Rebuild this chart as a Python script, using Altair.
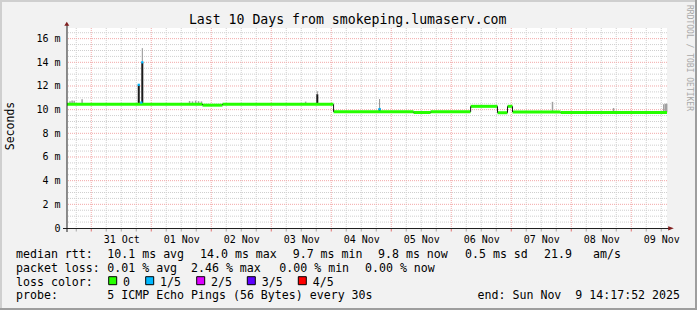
import altair as alt
import pandas as pd

MONO = "DejaVu Sans Mono"
START = "2025-10-30T14:17:52"
END = "2025-11-09T14:17:52"

# ---------------- data ----------------
# median RTT in ms, as step segments (segment start time -> value)
median_times = [
    "2025-10-30T14:17:52", "2025-11-01T20:30:00", "2025-11-02T04:30:00",
    "2025-11-04T00:55:00", "2025-11-05T08:55:00", "2025-11-05T15:45:00",
    "2025-11-06T07:45:00", "2025-11-06T18:30:00", "2025-11-06T22:30:00",
    "2025-11-07T00:30:00", "2025-11-07T19:45:00",
]
median_ms = [10.46, 10.38, 10.45, 9.82, 9.76, 9.82, 10.28, 9.74, 10.28, 9.80, 9.77]

# spikes (dense smoke): base, dark part top, light smoke top
spike_times = ["2025-10-31T19:00:00", "2025-10-31T20:25:00",
               "2025-11-03T18:25:00", "2025-11-04T19:20:00"]
spike_base = [10.45, 10.45, 10.45, 9.82]
spike_dark = [12.1, 14.0, 11.3, 10.1]
spike_top = [12.15, 15.2, 11.56, 10.9]

# median points with 1/5 loss
loss_times = ["2025-10-31T19:00:00", "2025-10-31T20:25:00",
              "2025-10-31T20:00:00", "2025-11-04T19:20:00"]
loss_ms = [12.1, 14.0, 10.6, 10.05]

# light smoke specks
smoke_times = [
    "2025-10-30T15:30:00", "2025-10-30T16:20:00", "2025-10-30T17:10:00",
    "2025-10-30T20:20:00", "2025-11-01T15:20:00", "2025-11-01T16:30:00",
    "2025-11-01T17:45:00", "2025-11-01T18:55:00", "2025-11-01T20:05:00",
    "2025-11-03T13:45:00", "2025-11-07T16:30:00", "2025-11-08T16:55:00",
    "2025-11-09T13:00:00", "2025-11-09T13:40:00", "2025-11-09T14:10:00",
]
smoke_low = [10.46, 10.46, 10.46, 10.46, 10.46, 10.46, 10.46, 10.46, 10.46,
             10.45, 9.77, 9.77, 9.77, 9.77, 9.77]
smoke_high = [10.70, 10.78, 10.75, 10.87, 10.73, 10.70, 10.76, 10.72, 10.70,
              10.68, 10.66, 10.14, 10.45, 10.50, 10.50]

label_days = [(10, 31), (11, 1), (11, 2), (11, 3), (11, 4),
              (11, 5), (11, 6), (11, 7), (11, 8), (11, 9)]
y_ticks = [0, 2, 4, 6, 8, 10, 12, 14, 16]

title_text = "Last 10 Days from smokeping.lumaserv.com"
rtt_head = "median rtt:"
rtt_stats = ["10.1 ms avg", "14.0 ms max", "9.7 ms min", "9.8 ms now",
             "0.5 ms sd", "21.9", "am/s"]
loss_head = "packet loss:"
loss_stats = ["0.01 % avg", "2.46 % max", "0.00 % min", "0.00 % now"]
color_head = "loss color:"
loss_labels = ["0", "1/5", "2/5", "3/5", "4/5"]
loss_colors = ["#26ff00", "#00b8ff", "#dd00ff", "#5e00ff", "#ff0000"]
probe_head = "probe:"
probe_text = "5 ICMP Echo Pings (56 Bytes) every 30s"
end_text = "end: Sun Nov\u00a0\u00a09 14:17:52 2025"

# ---------------- layout (pixels, relative to plot origin) ----------------
W, H = 600, 200
rtt_x = [40.3, 133, 225.7, 311, 398, 477, 526]
loss_x = [40.3, 124, 212.3, 298]
swatch_x = [41.7, 78.7, 129.7, 180.3, 231.3]
swlabel_x = [56, 93, 144, 194.7, 245.7]
row_y = [230.3, 243.7, 257.7, 271.3]

fmt = "%Y-%m-%dT%H:%M:%S"
xscale = alt.Scale(domain=[
    alt.DateTime(year=2025, month=10, date=30, hours=14, minutes=17, seconds=52),
    alt.DateTime(year=2025, month=11, date=9, hours=14, minutes=17, seconds=52)])
yscale = alt.Scale(domain=[0, 16.9], nice=False, zero=False)

xaxis = alt.Axis(values=[alt.DateTime(year=2025, month=m, date=d, hours=12) for m, d in label_days],
                 format="%d %b", labelFont=MONO, labelFontSize=10, labelColor="#000",
                 ticks=False, domain=False, grid=False, labelPadding=6, title=None,
                 labelFlush=False, labelOverlap=False)
yaxis = alt.Axis(values=y_ticks, labelExpr="datum.value == 0 ? '0' : datum.value + ' m'",
                 labelFont=MONO, labelFontSize=10, labelColor="#000", ticks=False,
                 domain=False, grid=False, labelPadding=7, title=None)

X = alt.X("t:T", scale=xscale, axis=xaxis)
Y = alt.Y("v:Q", scale=yscale, axis=yaxis)

# grid data
minor_v = [d.strftime(fmt) for d in pd.date_range("2025-10-30T18:00", "2025-11-09T12:00", freq="6h")
           if d.hour != 0]
major_v = [d.strftime(fmt) for d in pd.date_range("2025-10-31T00:00", "2025-11-09T00:00", freq="D")]
minor_h = [k * 0.5 for k in range(1, 34) if k % 4 != 0]
major_h = [k for k in range(2, 17, 2)]

one = alt.Data(values=[{}])


def rect(x, x2, y, y2, fill, stroke=None):
    kw = dict(fill=fill)
    if stroke:
        kw.update(stroke=stroke, strokeWidth=1)
    return alt.Chart(one).mark_rect(**kw).encode(
        x=alt.value(x), x2=alt.value(x2), y=alt.value(y), y2=alt.value(y2))


def txt(s, x, y, size=11.6, align="left", angle=0, color="#000", baseline="alphabetic"):
    return alt.Chart(one).mark_text(text=s, align=align, baseline=baseline, font=MONO,
                                    fontSize=size, angle=angle, color=color).encode(
        x=alt.value(x), y=alt.value(y))


layers = []
# frame (3D shade)
layers += [
    rect(-67, 630, -28, -26, "#CFCFCF"),
    rect(-67, -65, -28, 282, "#CFCFCF"),
    rect(-67, 630, 280, 282, "#9E9E9E"),
    rect(628, 630, -28, 282, "#9E9E9E"),
]

# grid
layers.append(alt.Chart(pd.DataFrame({"t": minor_v})).mark_rule(
    color="#CFCFCF", strokeWidth=1, strokeDash=[1, 1]).encode(x=X))
layers.append(alt.Chart(pd.DataFrame({"v": minor_h})).mark_rule(
    color="#CFCFCF", strokeWidth=1, strokeDash=[1, 1]).encode(y=Y))
layers.append(alt.Chart(pd.DataFrame({"t": major_v})).mark_rule(
    color="#F2A8A8", strokeWidth=1, strokeDash=[1, 1]).encode(x=X))
layers.append(alt.Chart(pd.DataFrame({"v": major_h})).mark_rule(
    color="#F2A8A8", strokeWidth=1, strokeDash=[1, 1]).encode(y=Y))

# axis ticks below x axis
layers.append(alt.Chart(pd.DataFrame({"t": minor_v})).mark_rule(
    color="#A8A8A8", strokeWidth=1).encode(x=X, y=alt.value(201), y2=alt.value(203.5)))
layers.append(alt.Chart(pd.DataFrame({"t": major_v})).mark_rule(
    color="#E07070", strokeWidth=1).encode(x=X, y=alt.value(201), y2=alt.value(203.5)))

# smoke specks
smoke = pd.DataFrame({"t": smoke_times, "v": smoke_low, "v2": smoke_high})
layers.append(alt.Chart(smoke).mark_rule(color="#A0A0A0", strokeWidth=1.5).encode(
    x=X, y=Y, y2="v2:Q"))

# spikes
spk = pd.DataFrame({"t": spike_times, "v": spike_base, "v2": spike_dark, "v3": spike_top})
layers.append(alt.Chart(spk).mark_rule(color="#909090", strokeWidth=1).encode(
    x=X, y=alt.Y("v2:Q", scale=yscale, axis=yaxis), y2="v3:Q"))
layers.append(alt.Chart(spk).mark_rule(color="#1a1a1a", strokeWidth=2).encode(
    x=X, y=Y, y2="v2:Q"))

# median segments
seg = pd.DataFrame({"t": median_times, "t2": median_times[1:] + [END], "v": median_ms})
layers.append(alt.Chart(seg).mark_rule(color="#26ff00", strokeWidth=3).encode(
    x=X, x2="t2:T", y=Y))
conn = pd.DataFrame({"t": median_times[1:], "v": median_ms[:-1], "v2": median_ms[1:]})
layers.append(alt.Chart(conn).mark_rule(color="#1a1a1a", strokeWidth=1).encode(
    x=X, y=Y, y2="v2:Q"))

# loss markers
lossdf = pd.DataFrame({"t": loss_times, "v": loss_ms})
layers.append(alt.Chart(lossdf).mark_point(shape="square", filled=True, size=5,
                                           color="#00b8ff", opacity=1).encode(x=X, y=Y))

# axes lines and arrows
layers.append(alt.Chart(one).mark_rule(color="#1F1F1F", strokeWidth=1).encode(
    x=alt.value(-4), x2=alt.value(602), y=alt.value(200.5)))
layers.append(alt.Chart(one).mark_rule(color="#1F1F1F", strokeWidth=1).encode(
    x=alt.value(0), y=alt.value(-3), y2=alt.value(204)))
layers.append(alt.Chart(one).mark_point(shape="M-1,-0.75L1,0L-1,0.75Z", filled=True, size=32,
                                        color="#801F1F", opacity=1).encode(
    x=alt.value(604), y=alt.value(200.3)))
layers.append(alt.Chart(one).mark_point(shape="M-1,0.8L0,-0.8L1,0.8Z", filled=True, size=25,
                                        color="#801F1F", opacity=1).encode(
    x=alt.value(-0.2), y=alt.value(-4.3)))

# texts
layers.append(txt(title_text, 280.7, -4, size=13.2, align="center"))
layers.append(txt("Seconds", -56.5, 98, size=11.5, align="center", angle=270, baseline="middle"))
layers.append(txt("RRDTOOL / TOBI OETIKER", 621.5, 30, size=8, align="center", angle=90,
                  color="#A8A8A8", baseline="middle"))

layers.append(txt(rtt_head, -51, row_y[0]))
for s, x in zip(rtt_stats, rtt_x):
    layers.append(txt(s, x, row_y[0]))
layers.append(txt(loss_head, -51, row_y[1]))
for s, x in zip(loss_stats, loss_x):
    layers.append(txt(s, x, row_y[1]))
layers.append(txt(color_head, -51, row_y[2]))
for lab, col, sx, lx in zip(loss_labels, loss_colors, swatch_x, swlabel_x):
    layers.append(rect(sx, sx + 8, row_y[2] - 9, row_y[2] - 1, col, stroke="#000"))
    layers.append(txt(lab, lx, row_y[2]))
layers.append(txt(probe_head, -51, row_y[3]))
layers.append(txt(probe_text, 40.3, row_y[3]))
layers.append(txt(end_text, 613, row_y[3], align="right"))

chart = alt.layer(*layers).properties(
    width=W, height=H,
    autosize=alt.AutoSizeParams(type="none"),
    padding={"left": 67, "top": 28, "right": 30, "bottom": 82},
    background="#F2F2F2",
).configure_view(stroke=None, fill="white")

chart.save("out.html", embed_options={"renderer": "svg", "actions": False})
